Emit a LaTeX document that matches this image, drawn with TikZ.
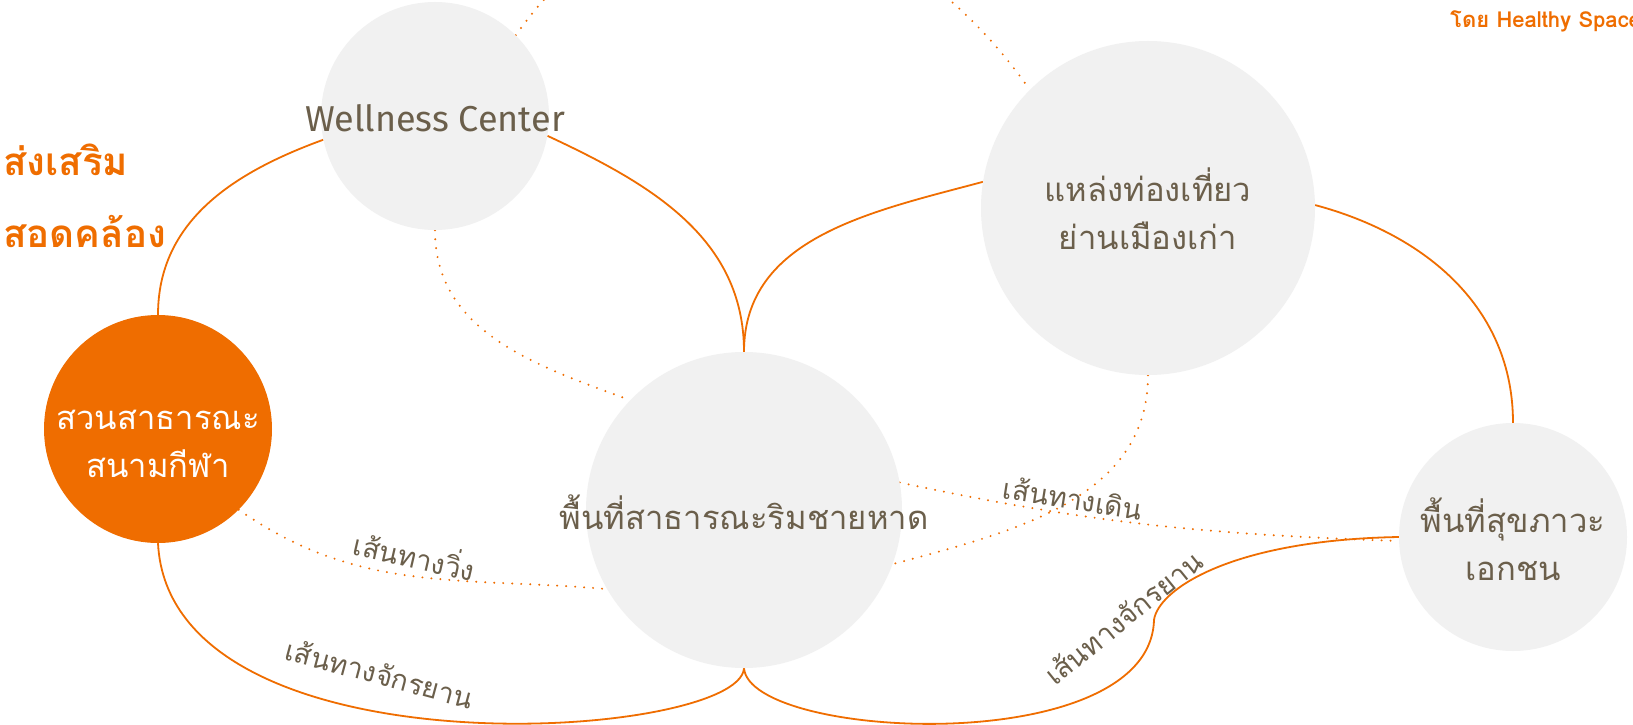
\documentclass[tikz,border=0pt]{standalone}
\usepackage{fontspec}
\usepackage{xcolor}
\usepackage{tikz}
\usetikzlibrary{positioning,backgrounds}
\setmainfont{Fira Sans}
\newfontfamily\thaifont[Script=Thai]{Loma}
\definecolor{HSOrange}{RGB}{239,109,0}
\definecolor{HSGray}{RGB}{241,241,241}
\definecolor{HSText}{RGB}{107,95,75}
\tikzset{
    zone/.style={circle, fill=HSGray, inner sep=0pt},
    zonetext/.style={align=center, inner sep=0pt, text=HSText, font=\thaifont\fontsize{32.8}{48}\selectfont},
    bikeline/.style={draw=HSOrange, line width=1.8pt},
    walkline/.style={draw=HSOrange, line width=2.2pt, line cap=round, dash pattern=on 0pt off 9pt},
    pathlabel/.style={text=HSText, inner sep=0pt, font=\thaifont\fontsize{28}{28}\selectfont}
}

\begin{document}
\begin{tikzpicture}[
        x=1pt, y=1pt,
        heading/.style={anchor=west, inner sep=0pt, text=HSOrange, font=\thaifont\bfseries\fontsize{38.5}{38.5}\selectfont}
    ]
    \useasboundingbox (0,0) rectangle (1633,-725);
    % --- Vùng ---
    \node[zone, minimum size=228pt] (well) at (435,-116) {};
    \node[zone, minimum size=228pt, fill=HSOrange] (park) at (158,-429) {};
    \node[zone, minimum size=316pt] (beach) at (744,-510) {};
    \node[zone, minimum size=334pt] (old) at (1148,-208) {};
    \node[zone, minimum size=228pt] (priv) at (1513,-537) {};
    \node[zonetext, font=\fontsize{36}{36}\selectfont] (welltext) at (435,-118) {Wellness Center};
    \node[zonetext, text=white] (parktext) at (158,-444) {สวนสาธารณะ\\สนามกีฬา};
    \node[zonetext] (beachtext) at (744,-512) {พื้นที่สาธารณะริมชายหาด};
    \node[zonetext] (oldtext) at (1148,-209) {แหล่งท่องเที่ยว\\ย่านเมืองเก่า};
    \node[zonetext] (privtext) at (1513,-539) {พื้นที่สุขภาวะ\\เอกชน};
    \coordinate (bend) at (1154,-620);
    % --- Tiêu đề ---
    \node[heading] (promote) at (3,-160) {ส่งเสริม};
    \node[heading] (agree) at (3,-232) {สอดคล้อง};
    \node[heading, font=\thaifont\bfseries\fontsize{22}{22}\selectfont] (credit) at (1450,-21) {โดย Healthy Space};
    % --- Nhãn đường ---
    \node[pathlabel, rotate=-13] (runlabel) at (415,-554) {เส้นทางวิ่ง};
    \node[pathlabel, rotate=-9] (walklabel) at (1073,-498) {เส้นทางเดิน};
    \node[pathlabel, rotate=-15] (bikeleft) at (380,-673) {เส้นทางจักรยาน};
    \node[pathlabel, rotate=39] (bikeright) at (1123,-617) {เส้นทางจักรยาน};
    % --- Đường nối ---
    \begin{scope}[on background layer]
        \fill[white] (0,0) rectangle (1633,-725);
        \draw[bikeline] (park.north) to[out=90, in=200] (well.192);
        \draw[bikeline] (well.-10) to[out=-25, in=90] (beach.north);
        \draw[bikeline] (beach.north) to[out=90, in=195] (old.171);
        \draw[bikeline] (old.1) to[out=-15, in=90] (priv.north);
        \draw[bikeline] (park.south) .. controls (170,-780) and (740,-740) .. (beach.south);
        \draw[bikeline] (beach.south) .. controls (750,-740) and (1150,-760) .. (bend)
            .. controls (1158,-590) and (1230,-540) .. (priv.west);
        \draw[walkline] (well.45) to[out=55, in=125, looseness=1.2] (old.135);
        \draw[walkline] (well.south) to[out=-90, in=160] (beach.136);
        \draw[walkline] (park.-45) to[out=-35, in=175] (beach.210);
        \draw[walkline] (beach.10) to[out=-12, in=178] (priv.182);
        \draw[walkline] (old.south) to[out=-90, in=15] (beach.-20);
    \end{scope}
\end{tikzpicture}
\end{document}
